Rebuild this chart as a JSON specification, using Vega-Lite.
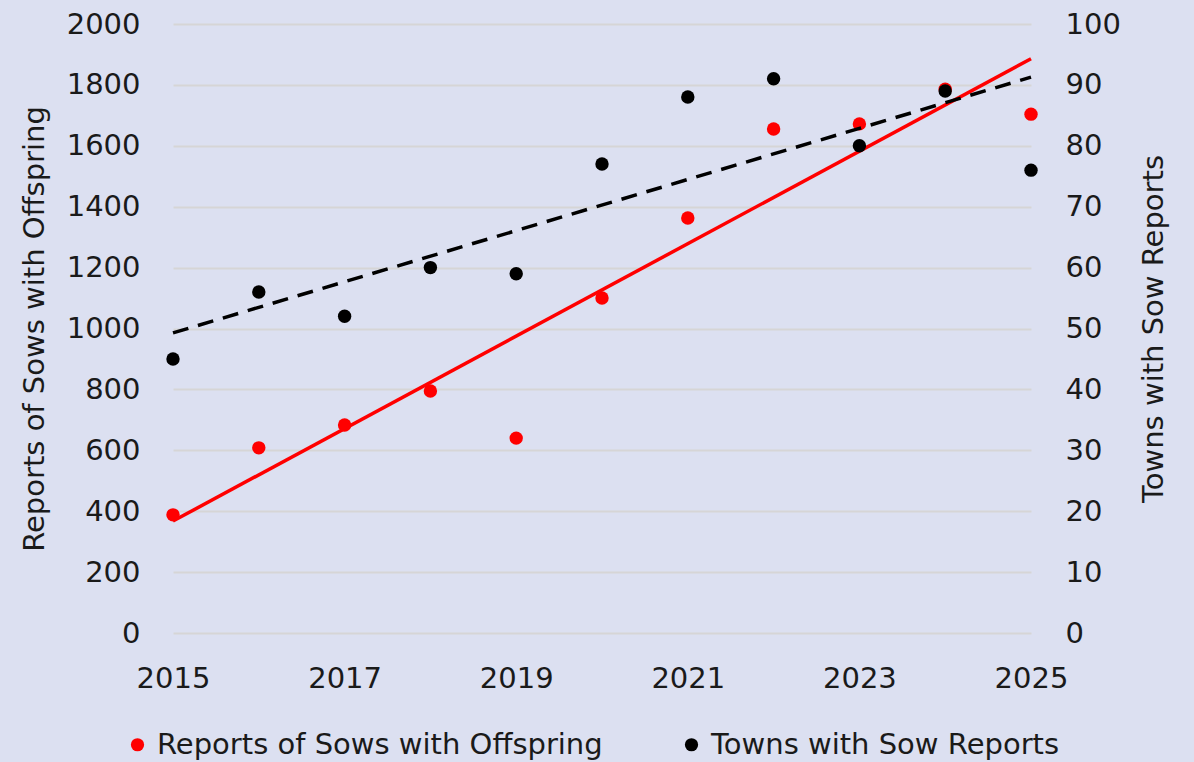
{
  "$schema": "https://vega.github.io/schema/vega-lite/v6.json",
  "width": 858,
  "height": 609,
  "autosize": {"type": "none"},
  "padding": {"left": 173, "top": 24, "right": 163, "bottom": 129},
  "background": "#dce0f1",
  "config": {
    "view": {"stroke": null},
    "font": "DejaVu Sans",
    "axis": {"labelFont": "DejaVu Sans", "titleFont": "DejaVu Sans", "labelColor": "#1a1a1a", "titleColor": "#1a1a1a", "labelFontSize": 29, "titleFontSize": 29, "titleFontWeight": "normal", "domain": false, "ticks": false},
    "legend": {"labelFont": "DejaVu Sans", "labelFontSize": 29, "labelColor": "#1a1a1a"}
  },
  "data": {
    "values": [
      {"Year": 2015, "Series": "Reports of Sows with Offspring", "Value": 388},
      {"Year": 2016, "Series": "Reports of Sows with Offspring", "Value": 608},
      {"Year": 2017, "Series": "Reports of Sows with Offspring", "Value": 683},
      {"Year": 2018, "Series": "Reports of Sows with Offspring", "Value": 795},
      {"Year": 2019, "Series": "Reports of Sows with Offspring", "Value": 640},
      {"Year": 2020, "Series": "Reports of Sows with Offspring", "Value": 1100},
      {"Year": 2021, "Series": "Reports of Sows with Offspring", "Value": 1363},
      {"Year": 2022, "Series": "Reports of Sows with Offspring", "Value": 1655},
      {"Year": 2023, "Series": "Reports of Sows with Offspring", "Value": 1672},
      {"Year": 2024, "Series": "Reports of Sows with Offspring", "Value": 1786},
      {"Year": 2025, "Series": "Reports of Sows with Offspring", "Value": 1704},
      {"Year": 2015, "Series": "Towns with Sow Reports", "Value": 45},
      {"Year": 2016, "Series": "Towns with Sow Reports", "Value": 56},
      {"Year": 2017, "Series": "Towns with Sow Reports", "Value": 52},
      {"Year": 2018, "Series": "Towns with Sow Reports", "Value": 60},
      {"Year": 2019, "Series": "Towns with Sow Reports", "Value": 59},
      {"Year": 2020, "Series": "Towns with Sow Reports", "Value": 77},
      {"Year": 2021, "Series": "Towns with Sow Reports", "Value": 88},
      {"Year": 2022, "Series": "Towns with Sow Reports", "Value": 91},
      {"Year": 2023, "Series": "Towns with Sow Reports", "Value": 80},
      {"Year": 2024, "Series": "Towns with Sow Reports", "Value": 89},
      {"Year": 2025, "Series": "Towns with Sow Reports", "Value": 76}
    ]
  },
  "encoding": {
    "x": {
      "field": "Year", "type": "quantitative",
      "scale": {"domain": [2015, 2025], "nice": false, "zero": false},
      "axis": {"title": null, "values": [2015, 2017, 2019, 2021, 2023, 2025], "format": "d", "grid": false, "labelPadding": 31, "labelFlush": false}
    }
  },
  "layer": [
    {
      "transform": [{"filter": "datum.Series === 'Reports of Sows with Offspring'"}],
      "encoding": {
        "y": {
          "field": "Value", "type": "quantitative",
          "scale": {"domain": [0, 2000], "nice": false},
          "axis": {"title": "Reports of Sows with Offspring", "format": "d", "values": [0, 200, 400, 600, 800, 1000, 1200, 1400, 1600, 1800, 2000], "grid": true, "gridColor": "#d6d5d6", "gridWidth": 2, "labelPadding": 33, "titlePadding": 17, "orient": "left", "labelFlush": false}
        }
      },
      "layer": [
        {
          "mark": {"type": "point", "filled": true, "size": 180, "opacity": 1},
          "encoding": {
            "color": {
              "field": "Series", "type": "nominal",
              "scale": {"domain": ["Reports of Sows with Offspring", "Towns with Sow Reports"], "range": ["#ff0000", "#000000"]},
              "legend": {"title": null, "orient": "none", "direction": "horizontal", "legendX": -50, "legendY": 706, "symbolType": "circle", "symbolSize": 175, "symbolOpacity": 1, "labelOffset": 5, "columnPadding": 74, "labelLimit": 0}
            }
          }
        },
        {
          "transform": [{"regression": "Value", "on": "Year", "method": "linear", "extent": [2015, 2025]}],
          "mark": {"type": "line", "color": "#ff0000", "strokeWidth": 3.5},
          "encoding": {}
        }
      ]
    },
    {
      "transform": [{"filter": "datum.Series === 'Towns with Sow Reports'"}],
      "encoding": {
        "y": {
          "field": "Value", "type": "quantitative",
          "scale": {"domain": [0, 100], "nice": false},
          "axis": {"title": "Towns with Sow Reports", "format": "d", "values": [0, 10, 20, 30, 40, 50, 60, 70, 80, 90, 100], "grid": false, "labelPadding": 34, "titlePadding": 48, "titleAngle": -90, "orient": "right", "labelFlush": false}
        }
      },
      "layer": [
        {
          "transform": [{"regression": "Value", "on": "Year", "method": "linear", "extent": [2015, 2025]}],
          "mark": {"type": "line", "color": "#000000", "strokeWidth": 3.5, "strokeDash": [16, 10]},
          "encoding": {}
        },
        {
          "mark": {"type": "point", "filled": true, "size": 180, "opacity": 1},
          "encoding": {
            "color": {"field": "Series", "type": "nominal"}
          }
        }
      ]
    }
  ],
  "resolve": {"scale": {"y": "independent"}}
}
